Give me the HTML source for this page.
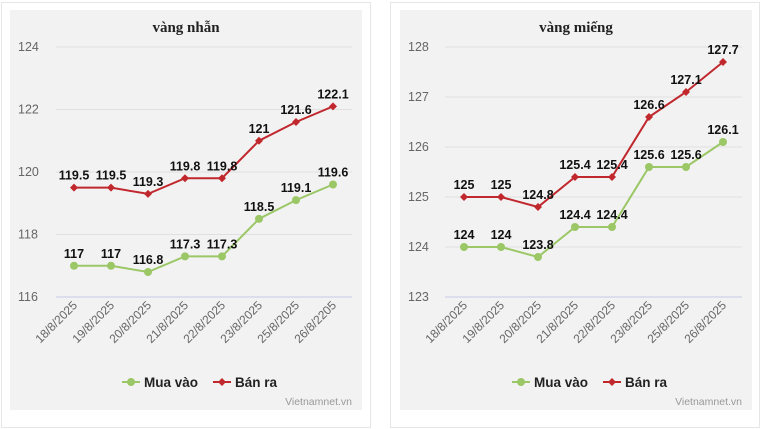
<!DOCTYPE html>
<html><head><meta charset="utf-8"><style>
body{margin:0;background:#fff;width:762px;height:429px;overflow:hidden;font-family:"Liberation Sans",sans-serif}
.card{position:absolute;top:2px;width:368px;height:424px;border:1px solid #e6e6e6;background:#fff}
</style></head><body>
<div class="card" style="left:1px"></div>
<div class="card" style="left:390px"></div>
<svg id="svg" width="762" height="429" style="position:absolute;left:0;top:0"></svg>
<script>
const dates1=["18/8/2025","19/8/2025","20/8/2025","21/8/2025","22/8/2025","23/8/2025","25/8/2025","26/8/2205"];
const dates2=["18/8/2025","19/8/2025","20/8/2025","21/8/2025","22/8/2025","23/8/2025","25/8/2025","26/8/2025"];
const buy1=[117,117,116.8,117.3,117.3,118.5,119.1,119.6];
const sell1=[119.5,119.5,119.3,119.8,119.8,121,121.6,122.1];
const buy2=[124,124,123.8,124.4,124.4,125.6,125.6,126.1];
const sell2=[125,125,124.8,125.4,125.4,126.6,127.1,127.7];
const ticks1=[116,118,120,122,124];
const ticks2=[123,124,125,126,127,128];
const NS="http://www.w3.org/2000/svg";
const svg=document.getElementById('svg');
function mk(tag,attrs,parent){const e=document.createElementNS(NS,tag);for(const k in attrs)e.setAttribute(k,attrs[k]);(parent||svg).appendChild(e);return e;}
function chart(o){
  const g=mk('g',{});
  
  
  const bg=mk('rect',{x:o.px,y:10,width:352,height:400,fill:'#f2f2f2'},g);
  
  
  const t=mk('text',{x:o.px+176,y:32,'text-anchor':'middle','font-family':'Liberation Serif, serif','font-weight':'bold','font-size':'15',fill:'#222'},g);
  t.textContent=o.title;
  
  
  const ymin=o.ticks[0],ymax=o.ticks[o.ticks.length-1];
  const y=v=>297-(v-ymin)/(ymax-ymin)*250;
  const x=i=>o.x0+i*37;
  o.ticks.forEach((v,i)=>{
    const l=mk('line',{x1:o.gx0,x2:o.gx1,y1:y(v),y2:y(v),stroke:i==0?'#c6cbe6':'#e0e0e0','stroke-width':1},g);
    
    
    const tx=mk('text',{x:o.px+8,y:y(v)+4,'font-size':'12.5',fill:'#666'},g);
    tx.textContent=v;
    
    
  });
  o.dates.forEach((d,i)=>{
    const tx=mk('text',{x:x(i)+4,y:306,'font-size':'12',fill:'#666','text-anchor':'end',transform:`rotate(-45 ${x(i)+4} 306)`},g);
    tx.textContent=d;
    
    
  });
  [[o.buy,'#9bc766','circle','buy-series'],[o.sell,'#c0282d','diamond','sell-series']].forEach(([arr,c,m,n])=>{
    const p=mk('polyline',{points:arr.map((v,i)=>x(i)+','+y(v)).join(' '),fill:'none',stroke:c,'stroke-width':2},g);
    
    
    arr.forEach((v,i)=>{
      let e;
      if(m=='circle')e=mk('circle',{cx:x(i),cy:y(v),r:4,fill:c},g);
      else e=mk('path',{d:`M${x(i)},${y(v)-4}L${x(i)+4},${y(v)}L${x(i)},${y(v)+4}L${x(i)-4},${y(v)}Z`,fill:c},g);
      
      
      const lb=mk('text',{x:x(i),y:y(v)-8,'text-anchor':'middle','font-size':'12.5','font-weight':'bold',fill:'#111'},g);
      lb.textContent=v;
      
      
    });
  });
  const lx=o.px+100;
  const lg=mk('g',{},g);
  
  
  mk('line',{x1:lx+12,x2:lx+30,y1:382,y2:382,stroke:'#9bc766','stroke-width':2},lg);
  mk('circle',{cx:lx+21,cy:382,r:4,fill:'#9bc766'},lg);
  const a=mk('text',{x:lx+34,y:387,'font-size':'13.5','font-weight':'bold',fill:'#222'},lg);a.textContent='Mua vào';
  mk('line',{x1:lx+103,x2:lx+121,y1:382,y2:382,stroke:'#c0282d','stroke-width':2},lg);
  mk('path',{d:`M${lx+112},378L${lx+116},382L${lx+112},386L${lx+108},382Z`,fill:'#c0282d'},lg);
  const b=mk('text',{x:lx+125,y:387,'font-size':'13.5','font-weight':'bold',fill:'#222'},lg);b.textContent='Bán ra';
  const w=mk('text',{x:o.px+342,y:405,'text-anchor':'end','font-size':'10.5',fill:'#999'},g);
  w.textContent='Vietnamnet.vn';
  
  
}
chart({name:'chart-vang-nhan',title:'vàng nhẫn',px:10,x0:74,gx0:56,gx1:352,ticks:ticks1,dates:dates1,buy:buy1,sell:sell1});
chart({name:'chart-vang-mieng',title:'vàng miếng',px:400,x0:464,gx0:445,gx1:742,ticks:ticks2,dates:dates2,buy:buy2,sell:sell2});
</script>
</body></html>
